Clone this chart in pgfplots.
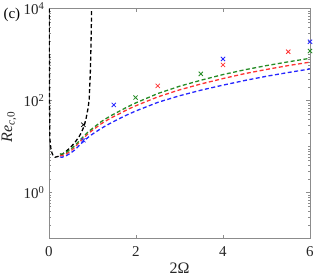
\documentclass[border=0pt]{standalone}
\usepackage{fontspec}
\setmainfont{Liberation Serif}
\usepackage{pgfplots}
\pgfplotsset{compat=1.18}
\definecolor{mblue}{rgb}{0.15,0.15,1}
\definecolor{mred}{rgb}{1,0.2,0.2}
\definecolor{mgreen}{rgb}{0.15,0.55,0.15}
\begin{document}
\begin{tikzpicture}
\useasboundingbox (-49pt,-39.3pt) rectangle (265pt,238.7pt);
\begin{axis}[
  at={(0pt,0pt)}, anchor=south west,
  scale only axis, width=261pt, height=230pt,
  xmin=0, xmax=6, ymin=0.1, ymax=10000,
  ymode=log, log basis y=10,
  xtick={0,2,4,6}, xticklabels={0,2,4,6},
  ytick={1,100,10000},
  yticklabels={10\textsuperscript{0},10\textsuperscript{2},10\textsuperscript{4}},
  minor ytick={0.2,0.3,0.4,0.5,0.6,0.7,0.8,0.9,2,3,4,5,6,7,8,9,10,20,30,40,50,60,70,80,90,200,300,400,500,600,700,800,900,1000,2000,3000,4000,5000,6000,7000,8000,9000},
  minor xtick={},
  tick align=inside,
  major tick length=3.5pt, minor tick length=2pt,
  tick style={draw=black!45, line width=0.5pt},
  axis line style={draw=black!45, line width=0.6pt},
  /pgf/number format/assume math mode=true,
  tick label style={font=\fontsize{15}{17}\selectfont, text=black!85},
  xticklabel style={yshift=-4pt},
  yticklabel style={xshift=-1pt},
  xlabel={2Ω},
  ylabel={\textit{Re}\textsubscript{\textit{c},0}},
  label style={font=\fontsize{16}{18}\selectfont, text=black!85},
  xlabel style={at={(axis description cs:0.5,-0.128)}, anchor=center},
  ylabel style={at={(axis description cs:-0.153,0.486)}, anchor=center},
  clip=true,
  every axis plot/.append style={line width=1.3pt, dash pattern=on 4pt off 2.5pt},
]
% black
\addplot[black, no marks] coordinates {
(0.005,10000) (0.008,1000) (0.012,100) (0.02,15) (0.04,9.5) (0.07,7.2) (0.1,6.3) (0.14,5.9) (0.2,6.1) (0.3,6.8) (0.4,8.0) (0.5,9.8) (0.6,12.5) (0.7,17) (0.75,21) (0.8,27) (0.85,40) (0.9,70) (0.925,110) (0.95,400) (0.965,1500) (0.98,10000)
};
% blue
\addplot[mblue, no marks] coordinates {
(0.25,6.0) (0.3,5.9) (0.4,6.4) (0.5,7.3) (0.6,8.6) (0.7,10.8) (0.8,13.2) (0.9,16) (1.0,18.8) (1.2,25) (1.4,32) (1.6,40) (1.8,49.5) (2.0,60) (2.5,92) (3.0,128) (3.5,170) (4.0,218) (4.5,275) (5.0,340) (5.5,410) (6.0,490)
};
% red
\addplot[mred, no marks] coordinates {
(0.25,6.5) (0.3,6.4) (0.4,7.0) (0.5,8.1) (0.6,9.8) (0.7,12.6) (0.8,15.6) (0.9,19.2) (1.0,22.8) (1.2,31.5) (1.4,41) (1.6,51) (1.8,64) (2.0,78) (2.5,121) (3.0,172) (3.5,232) (4.0,303) (4.5,388) (5.0,478) (5.5,580) (6.0,690)
};
% green
\addplot[mgreen, no marks] coordinates {
(0.25,7.0) (0.3,6.9) (0.4,7.6) (0.5,8.8) (0.6,10.8) (0.7,13.5) (0.8,17) (0.9,21) (1.0,25) (1.2,35) (1.4,46) (1.6,58) (1.8,73) (2.0,90) (2.5,143) (3.0,206) (3.5,280) (4.0,370) (4.5,470) (5.0,580) (5.5,700) (6.0,835)
};
% markers
\addplot[black, only marks, mark=x, mark size=3pt, solid, line width=0.8pt, mark options={solid}] coordinates {(0.79,30)};
\addplot[mblue, only marks, mark=x, mark size=3pt, solid, line width=0.8pt, mark options={solid}] coordinates {(0.79,13.8) (1.49,81) (4.0,807) (6.0,1910)};
\addplot[mgreen, only marks, mark=x, mark size=3pt, solid, line width=0.8pt, mark options={solid}] coordinates {(1.99,117) (3.49,383) (6.0,1200)};
\addplot[mred, only marks, mark=x, mark size=3pt, solid, line width=0.8pt, mark options={solid}] coordinates {(2.5,210) (4.0,600) (5.5,1160)};
\end{axis}
\node[font=\fontsize{15}{17}\selectfont, anchor=west] at (-49pt,224pt) {(c)};
\end{tikzpicture}
\end{document}
